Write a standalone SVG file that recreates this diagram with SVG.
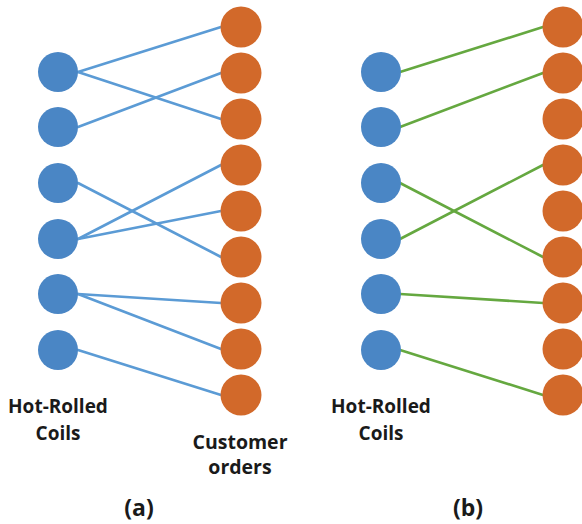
<svg xmlns="http://www.w3.org/2000/svg" width="582" height="524" viewBox="0 0 582 524">
<style>
.coil{fill:#4a86c5}
.order{fill:#d2692a}
.ea{stroke:#5b9bd5;stroke-width:2.6;fill:none;stroke-linecap:round}
.eb{stroke:#65a840;stroke-width:2.6;fill:none;stroke-linecap:round}
text{font-family:"Open Sans","Liberation Sans",sans-serif;font-weight:700;font-size:19px;fill:#1a1a1a;text-anchor:middle}
.big{font-size:19.5px}
.cap{font-size:23px}
</style>
<rect width="582" height="524" fill="#ffffff"/>
<g id="connectors-a">
<line class="ea" x1="78" y1="72" x2="221" y2="27"/>
<line class="ea" x1="78" y1="72" x2="221" y2="119"/>
<line class="ea" x1="78" y1="127" x2="221" y2="73"/>
<line class="ea" x1="78" y1="183" x2="221" y2="257"/>
<line class="ea" x1="78" y1="239" x2="221" y2="165"/>
<line class="ea" x1="78" y1="239" x2="221" y2="211"/>
<line class="ea" x1="78" y1="294" x2="221" y2="303"/>
<line class="ea" x1="78" y1="294" x2="221" y2="349"/>
<line class="ea" x1="78" y1="350" x2="221" y2="395"/>
</g>
<g id="connectors-b">
<line class="eb" x1="400" y1="72" x2="543" y2="27"/>
<line class="eb" x1="400" y1="127" x2="543" y2="73"/>
<line class="eb" x1="400" y1="183" x2="543" y2="257"/>
<line class="eb" x1="400" y1="239" x2="543" y2="165"/>
<line class="eb" x1="400" y1="294" x2="543" y2="303"/>
<line class="eb" x1="400" y1="350" x2="543" y2="395"/>
</g>
<g id="coils-a">
<circle id="a-c1" class="coil" cx="58" cy="72" r="20"/>
<circle id="a-c2" class="coil" cx="58" cy="127" r="20"/>
<circle id="a-c3" class="coil" cx="58" cy="183" r="20"/>
<circle id="a-c4" class="coil" cx="58" cy="239" r="20"/>
<circle id="a-c5" class="coil" cx="58" cy="294" r="20"/>
<circle id="a-c6" class="coil" cx="58" cy="350" r="20"/>
</g>
<g id="orders-a">
<circle id="a-o1" class="order" cx="241" cy="27" r="20.5"/>
<circle id="a-o2" class="order" cx="241" cy="73" r="20.5"/>
<circle id="a-o3" class="order" cx="241" cy="119" r="20.5"/>
<circle id="a-o4" class="order" cx="241" cy="165" r="20.5"/>
<circle id="a-o5" class="order" cx="241" cy="211" r="20.5"/>
<circle id="a-o6" class="order" cx="241" cy="257" r="20.5"/>
<circle id="a-o7" class="order" cx="241" cy="303" r="20.5"/>
<circle id="a-o8" class="order" cx="241" cy="349" r="20.5"/>
<circle id="a-o9" class="order" cx="241" cy="395" r="20.5"/>
</g>
<g id="coils-b">
<circle id="b-c1" class="coil" cx="381" cy="72" r="20"/>
<circle id="b-c2" class="coil" cx="381" cy="127" r="20"/>
<circle id="b-c3" class="coil" cx="381" cy="183" r="20"/>
<circle id="b-c4" class="coil" cx="381" cy="239" r="20"/>
<circle id="b-c5" class="coil" cx="381" cy="294" r="20"/>
<circle id="b-c6" class="coil" cx="381" cy="350" r="20"/>
</g>
<g id="orders-b">
<circle id="b-o1" class="order" cx="563" cy="27" r="20.5"/>
<circle id="b-o2" class="order" cx="563" cy="73" r="20.5"/>
<circle id="b-o3" class="order" cx="563" cy="119" r="20.5"/>
<circle id="b-o4" class="order" cx="563" cy="165" r="20.5"/>
<circle id="b-o5" class="order" cx="563" cy="211" r="20.5"/>
<circle id="b-o6" class="order" cx="563" cy="257" r="20.5"/>
<circle id="b-o7" class="order" cx="563" cy="303" r="20.5"/>
<circle id="b-o8" class="order" cx="563" cy="349" r="20.5"/>
<circle id="b-o9" class="order" cx="563" cy="395" r="20.5"/>
</g>
<g id="labels-a">
<text x="58" y="413">Hot-Rolled</text>
<text x="58" y="440">Coils</text>
<text class="big" x="240" y="449">Customer</text>
<text class="big" x="240" y="474">orders</text>
<text class="cap" x="139" y="516">(a)</text>
</g>
<g id="labels-b">
<text x="381" y="413">Hot-Rolled</text>
<text x="381" y="440">Coils</text>
<text class="cap" x="468" y="516">(b)</text>
</g>
</svg>
